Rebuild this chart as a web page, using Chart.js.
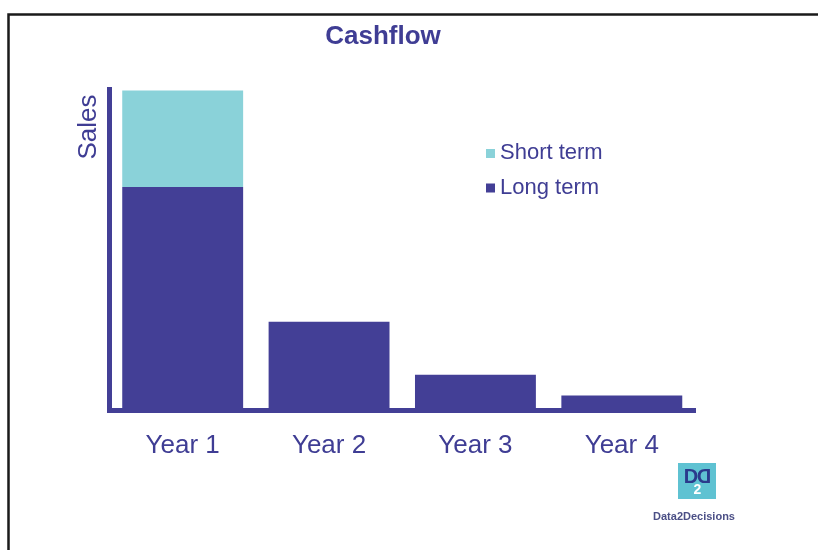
<!DOCTYPE html>
<html>
<head>
<meta charset="utf-8">
<script src="https://cdn.jsdelivr.net/npm/chart.js@4/dist/chart.umd.min.js"></script>
<style>
  html, body { margin: 0; padding: 0; background: #ffffff; }
  #wrap { width: 818px; height: 550px; position: relative; }
</style>
</head>
<body>
<div id="wrap"><canvas id="c" width="818" height="550"></canvas></div>
<script>
// ---- data ----
const categories = ['Year 1', 'Year 2', 'Year 3', 'Year 4'];
const longTerm = [69.5, 27.5, 11, 4.5];
const shortTerm = [30, 0, 0, 0];
const seriesNames = ['Long term', 'Short term'];
const chartTitle = 'Cashflow';
const yAxisTitle = 'Sales';
const logoText = 'Data2Decisions';

const DARK = '#433F96';
const CYAN = '#8AD2D9';
const TEXT = '#3F3D94';
const FONT = '"Liberation Sans", Arial, Helvetica, sans-serif';

const overlay = {
  id: 'overlay',
  beforeDraw(chart) {
    const ctx = chart.ctx;
    ctx.save();
    ctx.fillStyle = '#ffffff';
    ctx.fillRect(0, 0, chart.width, chart.height);
    // frame
    ctx.strokeStyle = '#1a1a1a';
    ctx.lineWidth = 2.5;
    ctx.beginPath();
    ctx.moveTo(8.5, 560);
    ctx.lineTo(8.5, 14.5);
    ctx.lineTo(830, 14.5);
    ctx.stroke();
    ctx.restore();
  },
  afterDraw(chart) {
    const ctx = chart.ctx;
    ctx.save();
    // title
    ctx.fillStyle = TEXT;
    ctx.font = 'bold 26px ' + FONT;
    ctx.textAlign = 'center';
    ctx.textBaseline = 'middle';
    ctx.fillText(chartTitle, 383, 37);
    // y axis title
    ctx.save();
    ctx.translate(89, 127);
    ctx.rotate(-Math.PI / 2);
    ctx.font = '26px ' + FONT;
    ctx.fillText(yAxisTitle, 0, 0);
    ctx.restore();
    // legend (reverse order, inside plot)
    const ds = chart.data.datasets.slice().reverse();
    ctx.font = '22px ' + FONT;
    ctx.textAlign = 'left';
    ds.forEach((d, i) => {
      const cy = 153 + i * 34.5;
      ctx.fillStyle = d.backgroundColor;
      ctx.fillRect(486, cy - 4, 9, 9);
      ctx.fillStyle = TEXT;
      ctx.fillText(d.label, 500, cy);
    });
    // logo
    ctx.fillStyle = '#5FC2D2';
    ctx.fillRect(678, 463, 38, 36);
    ctx.fillStyle = '#2B3A8C';
    ctx.font = 'bold 20px ' + FONT;
    ctx.textAlign = 'center';
    ctx.fillText('D', 691, 477);
    ctx.save();
    ctx.translate(704, 477);
    ctx.scale(-1, 1);
    ctx.fillText('D', 0, 0);
    ctx.restore();
    ctx.fillStyle = '#ffffff';
    ctx.font = 'bold 14px ' + FONT;
    ctx.fillText('2', 697.5, 490);
    ctx.fillStyle = '#4B4F86';
    ctx.font = 'bold 11px ' + FONT;
    ctx.fillText(logoText, 694, 517);
    ctx.restore();
  }
};

new Chart(document.getElementById('c'), {
  type: 'bar',
  data: {
    labels: categories,
    datasets: [
      { label: seriesNames[0], data: longTerm, backgroundColor: DARK, borderWidth: 0 },
      { label: seriesNames[1], data: shortTerm, backgroundColor: CYAN, borderWidth: 0 }
    ]
  },
  options: {
    responsive: false,
    devicePixelRatio: 1,
    animation: false,
    datasets: { bar: { barPercentage: 0.826, categoryPercentage: 1.0 } },
    layout: { padding: { left: 109.5, top: 89, right: 123, bottom: 68.8 } },
    plugins: { legend: { display: false }, title: { display: false }, tooltip: { enabled: false } },
    scales: {
      x: {
        stacked: true,
        grid: { display: false, drawTicks: false },
        border: { display: true, color: DARK, width: 5 },
        ticks: { color: TEXT, font: { family: FONT, size: 26 }, padding: 20 }
      },
      y: {
        stacked: true,
        min: 0,
        max: 100,
        grid: { display: false, drawTicks: false },
        border: { display: true, color: DARK, width: 5 },
        ticks: { display: false }
      }
    }
  },
  plugins: [overlay]
});
</script>
</body>
</html>
